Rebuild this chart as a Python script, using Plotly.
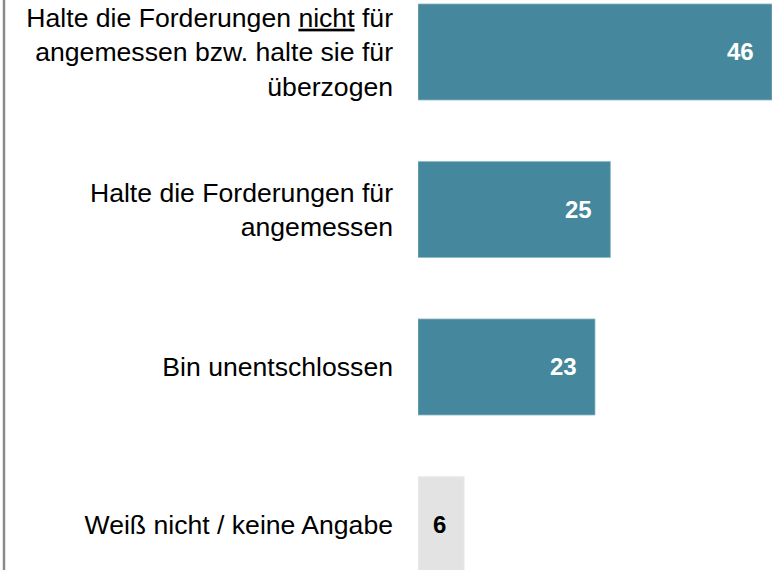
import plotly.graph_objects as go

categories = [
    "Halte die Forderungen <u>nicht</u> für<br>angemessen bzw. halte sie für<br>überzogen",
    "Halte die Forderungen für<br>angemessen",
    "Bin unentschlossen",
    "Weiß nicht / keine Angabe",
]
values = [46, 25, 23, 6]
bar_colors = ["#45879C", "#45879C", "#45879C", "#E3E3E3"]
edge_colors = ["#8FB8C6", "#8FB8C6", "#8FB8C6", "#EDEDED"]
label_colors = ["#FFFFFF", "#FFFFFF", "#FFFFFF", "#000000"]

W, H = 777, 570
left, right = 418, 5
plot_w = W - left - right

fig = go.Figure()
fig.add_trace(go.Bar(
    x=values, y=categories, orientation="h",
    marker=dict(color=bar_colors, line=dict(color=edge_colors, width=0.8)),
    width=0.61, hoverinfo="skip",
))

for v, c, lc in zip(values, categories, label_colors):
    fig.add_annotation(
        x=v, y=c, text=f"<b>{v}</b>", showarrow=False,
        xanchor="right", yanchor="middle", xshift=-16,
        font=dict(family="Arial, Liberation Sans, sans-serif", size=24, color=lc),
    )

fig.add_shape(
    type="line", xref="paper", yref="paper",
    x0=(4 - left) / plot_w, x1=(4 - left) / plot_w, y0=0, y1=1,
    line=dict(color="#8A8A8A", width=2.5),
)

fig.update_layout(
    width=W, height=H,
    margin=dict(l=left, r=right, t=0, b=0, pad=0),
    paper_bgcolor="white", plot_bgcolor="white",
    showlegend=False,
    font=dict(family="Arial, Liberation Sans, sans-serif", size=26.6, color="#000000"),
    xaxis=dict(range=[0, 46], visible=False, fixedrange=True),
    yaxis=dict(
        type="category", categoryorder="array", categoryarray=categories,
        range=[3.289, -0.330], showgrid=False, zeroline=False, showline=False,
        ticks="", ticklabelstandoff=24,
        tickfont=dict(family="Arial, Liberation Sans, sans-serif", size=26.6, color="#000000"),
    ),
)

fig.write_html(
    "out.html",
    config={"displayModeBar": False},
    post_script="document.body.style.margin='0';document.body.style.overflow='hidden';",
)
